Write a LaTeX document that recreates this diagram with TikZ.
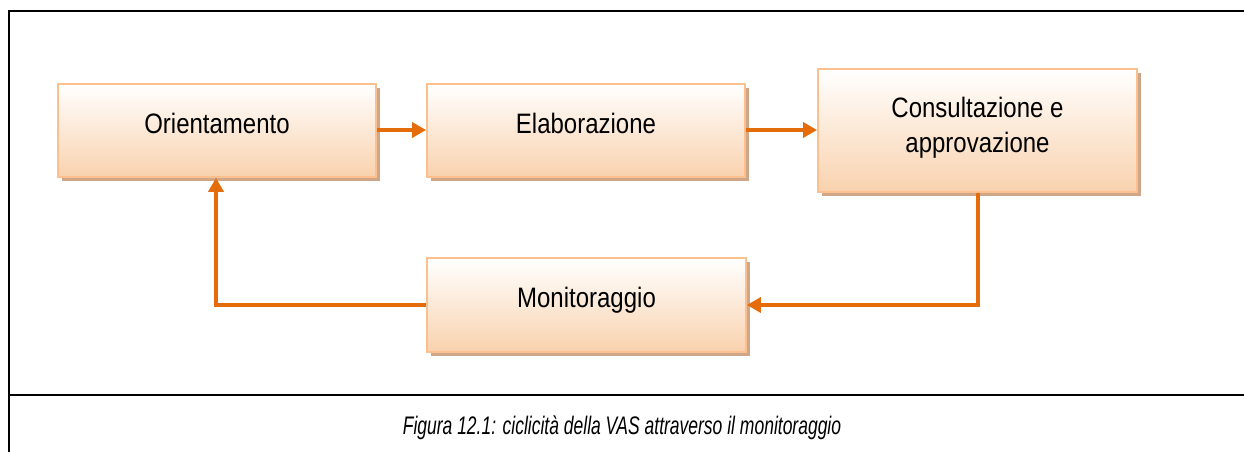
\documentclass[tikz,border=0pt]{standalone}
\usepackage{fontspec}
\setmainfont{Liberation Sans}
\usetikzlibrary{arrows.meta,shadows}
\definecolor{boxborder}{HTML}{FBC08E}
\definecolor{boxbottom}{HTML}{F9D2AE}
\definecolor{boxshadow}{HTML}{CFA688}
\definecolor{arrowc}{HTML}{E46C0A}
\newcommand{\lbl}[1]{\raisebox{-2.5pt}[0pt][0pt]{\scalebox{1}[1.17]{#1}}}
\tikzset{
  stagebox/.style={draw=boxborder, line width=1.8pt, top color=white, bottom color=boxbottom,
    minimum width=318pt, minimum height=93pt, inner sep=0pt, text=black,
    font=\fontsize{24}{30}\selectfont,
    drop shadow={shadow xshift=3.5pt, shadow yshift=-3.5pt, fill=boxshadow, opacity=1}},
  flow/.style={draw=arrowc, line width=3.6pt, -{Triangle[length=14pt,width=15pt]}},
  frameline/.style={draw=black, line width=2.4pt}
}
\begin{document}
\begin{tikzpicture}[x=1pt,y=-1pt]
\useasboundingbox (0,0) rectangle (1244,452);
% frame
\draw[frameline] (1244,11) -- (9,11) -- (9,452);
\draw[frameline] (9,395) -- (1244,395);
% boxes
\node[stagebox] (o) at (217,130.5) {\lbl{Orientamento}};
\node[stagebox] (e) at (586,130.5) {\lbl{Elaborazione}};
\node[stagebox, minimum width=319pt, minimum height=123pt] (c) at (977.5,130.5)
  {\raisebox{-5pt}[0pt][0pt]{\scalebox{1}[1.17]{\begin{tabular}{@{}c@{}}Consultazione e\\approvazione\end{tabular}}}};
\node[stagebox, minimum width=319pt, minimum height=94pt] (m) at (586.5,305) {\lbl{Monitoraggio}};
% connectors
\draw[flow] (o.east |- 0,130) -- (e.west |- 0,130);
\draw[flow] (e.east |- 0,130) -- (c.west |- 0,130);
\draw[flow] (c.south -| 978,0) |- (m.east);
\draw[flow] (m.west) -| (o.south -| 216,0);
% caption
\node[font=\fontsize{17.5}{22}\selectfont\itshape] (cap) at (622,428) {\scalebox{1}[1.45]{Figura 12.1: ciclicità della VAS attraverso il monitoraggio}};
\end{tikzpicture}
\end{document}
